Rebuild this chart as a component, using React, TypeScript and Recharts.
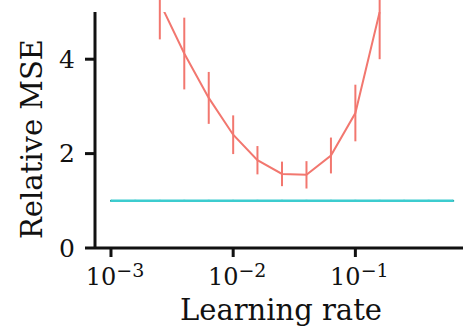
import { LineChart, Line, XAxis, YAxis, ErrorBar } from "recharts";

// learning rates on the sweep grid
const LR = [
  0.001, 0.00158, 0.00251, 0.00398, 0.00631, 0.01, 0.0158, 0.0251, 0.0398,
  0.0631, 0.1, 0.158, 0.251, 0.398, 0.631,
];

// red curve: grid points 2..11 (others are off the top of the plot)
const RED_LR = LR.slice(2, 12);
const RED_MSE = [5.2, 4.12, 3.18, 2.4, 1.86, 1.57, 1.55, 1.96, 2.86, 5.0];
const RED_ERR = [0.78, 0.76, 0.55, 0.41, 0.3, 0.26, 0.29, 0.38, 0.6, 1.0];

// cyan baseline
const BASE_MSE = [1, 1, 1, 1, 1, 1, 1, 1, 1, 1, 1, 1, 1, 1, 1];
const BASE_ERR = 0.02;

const X_TICKS = [0.001, 0.01, 0.1];
const Y_TICKS = [0, 2, 4];

const RED = "#F2776F";
const CYAN = "#3CCCCF";
const INK = "#111";
const FONT = "'DejaVu Serif', serif";

const redData = RED_LR.map((lr, i) => ({ lr, mse: RED_MSE[i], err: RED_ERR[i] }));
const baseData = LR.map((lr, i) => ({ lr, mse: BASE_MSE[i], err: BASE_ERR }));

function LogTick(props: any) {
  const { x, payload } = props;
  const exp = Math.round(Math.log10(payload.value));
  return (
    <text x={x + 4} y={285} textAnchor="middle" fontFamily={FONT} fontSize={24} fill={INK}>
      <tspan>10</tspan>
      <tspan dy={-8} fontSize={19}>{`\u2212${-exp}`}</tspan>
    </text>
  );
}

export default function App() {
  return (
    <div style={{ position: "absolute", left: 0, top: 0, width: 463, height: 329, overflow: "hidden", background: "#fff" }}>
      <LineChart
        width={463}
        height={329}
        margin={{ top: 12, right: 0, bottom: 0, left: 0 }}
      >
        <XAxis
          dataKey="lr"
          type="number"
          scale="log"
          domain={[0.00074, 0.76]}
          allowDataOverflow
          ticks={X_TICKS}
          tick={<LogTick />}
          height={81}
          tickSize={9}
          axisLine={{ stroke: INK, strokeWidth: 3 }}
          tickLine={{ stroke: INK, strokeWidth: 3 }}
          label={() => (
            <text x={281} y={320} textAnchor="middle" fontFamily={FONT} fontSize={29} fill={INK}>
              Learning rate
            </text>
          )}
        />
        <YAxis
          type="number"
          domain={[0, 5]}
          allowDataOverflow
          ticks={Y_TICKS}
          width={95}
          tickSize={10}
          tickMargin={10}
          tick={{ fontFamily: FONT, fontSize: 25, fill: INK }}
          axisLine={{ stroke: INK, strokeWidth: 3 }}
          tickLine={{ stroke: INK, strokeWidth: 3 }}
          label={() => (
            <text
              x={0}
              y={0}
              transform="translate(42,139) rotate(-90)"
              textAnchor="middle"
              fontFamily={FONT}
              fontSize={29}
              fill={INK}
            >
              Relative MSE
            </text>
          )}
        />
        <Line
          data={baseData}
          dataKey="mse"
          stroke={CYAN}
          strokeWidth={2.5}
          dot={false}
          isAnimationActive={false}
        >
          <ErrorBar dataKey="err" width={0} stroke="#2aa8ab" strokeWidth={2} />
        </Line>
        <Line
          data={redData}
          dataKey="mse"
          stroke={RED}
          strokeWidth={2}
          dot={false}
          isAnimationActive={false}
        >
          <ErrorBar dataKey="err" width={0} stroke={RED} strokeWidth={2} />
        </Line>
      </LineChart>
    </div>
  );
}
